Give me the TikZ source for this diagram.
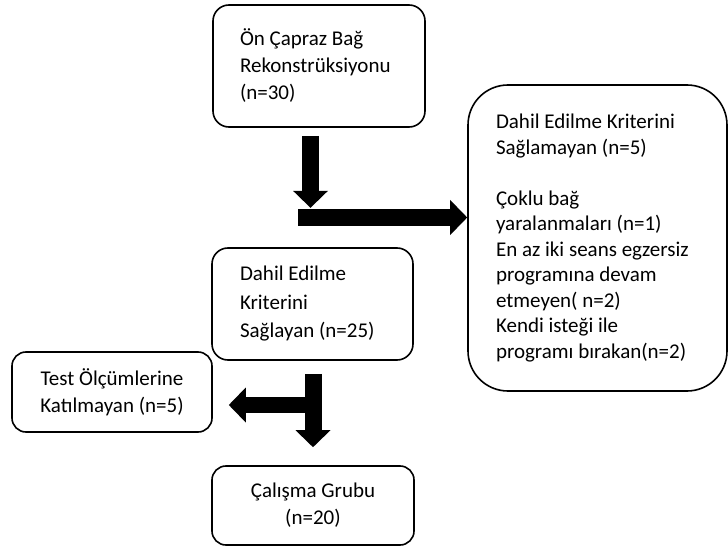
\documentclass[tikz,border=0pt]{standalone}
\usepackage{fontspec}
\setmainfont{Carlito}
\usetikzlibrary{arrows.meta}

\begin{document}
\begin{tikzpicture}[
  x=1pt, y=-1pt,
  box/.style={draw, line width=1.6pt, rounded corners=16pt, inner sep=0pt,
    font=\fontsize{21}{27}\selectfont},
  fat/.style={line width=17pt, -{Triangle[width=35pt,length=17pt,line width=0pt]}}
  ]
\useasboundingbox (0,0) rectangle (728,548);
\node [box, minimum width=212pt, minimum height=122pt, text width=158pt, align=flush left]
  (recon) at (319,66) {Ön Çapraz Bağ\\Rekonstrüksiyonu\\(n=30)};
\node [box, rounded corners=40pt, minimum width=259pt, minimum height=306pt,
  text width=203pt, align=flush left, font=\fontsize{21}{25.5}\selectfont] (crit) at (597.5,238)
  {Dahil Edilme Kriterini\\Sağlamayan (n=5)\\[25.5pt]Çoklu bağ\\yaralanmaları (n=1)\\
   En az iki seans egzersiz\\programına devam\\etmeyen( n=2)\\Kendi isteği ile\\
   programı bırakan(n=2)};
\node [box, minimum width=201pt, minimum height=112pt, text width=145pt, align=flush left,
  font=\fontsize{21}{28.5}\selectfont] (incl) at (312.5,304) {Dahil Edilme\\Kriterini\\Sağlayan (n=25)};
\node [box, rounded corners=14pt, minimum width=200pt, minimum height=80pt, align=center]
  (excl) at (112,392) {Test Ölçümlerine\\Katılmayan (n=5)};
\node [box, rounded corners=14pt, minimum width=202pt, minimum height=79pt, align=center]
  (group) at (313,505.5) {Çalışma Grubu\\(n=20)};
\coordinate (split) at (298,217.5);
\coordinate (bend) at (305,405);
\draw [fat] ([xshift=-8.5pt,yshift=-8pt]recon.south) -- ++(0,72);
\draw [fat] (split) -- (split -| crit.west);
\draw [fat, shorten <=13pt, shorten >=18pt] (incl.south -| group.north) -- (group.north);
\draw [fat, line width=16pt, shorten >=16pt] (bend) -- (bend -| excl.east);
\end{tikzpicture}
\end{document}
